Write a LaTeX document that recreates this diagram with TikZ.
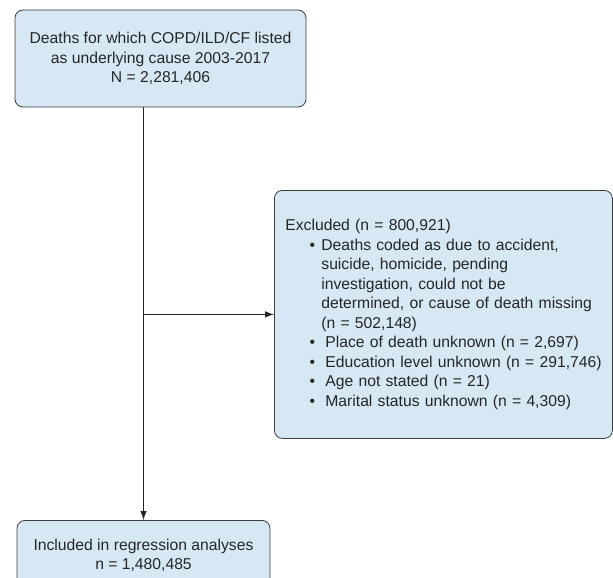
\documentclass[tikz,border=0pt]{standalone}
\usepackage{fontspec}
\setmainfont{Liberation Sans}
\usepackage{tikz}
\usetikzlibrary{arrows.meta,positioning}
\definecolor{boxblue}{RGB}{214,232,244}
\definecolor{boxline}{RGB}{60,60,60}

\begin{document}
\begin{tikzpicture}[x=1pt,y=-1pt,
    flowbox/.style={draw=boxline, line width=0.8pt, fill=boxblue, rounded corners=8pt,
      font=\fontsize{15.7}{19.5}\selectfont, text=black!85},
    flowline/.style={line width=0.8pt, black!85},
    flowarrow/.style={flowline, -{Latex[length=9pt,width=6.5pt]}}]
    \clip (0,0) rectangle (613,578);
    \node[flowbox, align=center, minimum width=291pt, minimum height=97pt]
      (top) at (160.5,58.5) {Deaths for which COPD/ILD/CF listed\\
      as underlying cause 2003-2017\\N = 2,281,406};
    \node[flowbox, align=left, anchor=north west, minimum width=338pt,
      minimum height=248pt, text width=327pt, inner xsep=5.5pt]
      (excl) at (274,190) {\hspace*{5.5pt}Excluded (n = 800,921)\\
      \hspace*{29.75pt}\textbullet\hspace{6.25pt}Deaths coded as due to accident,\\
      \hspace*{41.5pt}suicide, homicide, pending\\
      \hspace*{41.5pt}investigation, could not be\\
      \hspace*{41.5pt}determined, or cause of death missing\\
      \hspace*{41.5pt}(n = 502,148)\\
      \hspace*{29.75pt}\textbullet\hspace{10.25pt}Place of death unknown (n = 2,697)\\
      \hspace*{29.75pt}\textbullet\hspace{10.25pt}Education level unknown (n = 291,746)\\
      \hspace*{29.75pt}\textbullet\hspace{10.25pt}Age not stated (n = 21)\\
      \hspace*{29.75pt}\textbullet\hspace{10.25pt}Marital status unknown (n = 4,309)};
    \node[flowbox, align=center, anchor=north, minimum width=253pt, inner ysep=14pt,
      minimum height=70pt]
      (incl) at (143.5,520) {Included in regression analyses\\n = 1,480,485};
    \coordinate (split) at (incl.north |- excl.west);
    \draw[flowarrow] (top.south -| incl.north) -- (incl.north);
    \draw[flowarrow] (split) -- (excl.west);
\end{tikzpicture}
\end{document}
